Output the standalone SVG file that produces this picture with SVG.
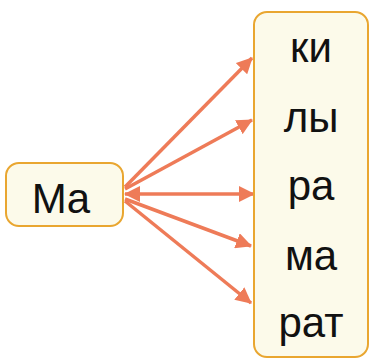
<svg xmlns="http://www.w3.org/2000/svg" width="371" height="364" viewBox="0 0 371 364">
<style>
.box{fill:#FCFAEA;stroke:#E9A630;stroke-width:2}
.t{font-family:"Liberation Sans",Arial,sans-serif;font-size:42px;fill:#111;text-anchor:middle}
.c{stroke:#EE7B58;stroke-width:3.5;fill:none}
</style>
<defs>
<marker id="ah" viewBox="0 0 16 16" refX="15" refY="8" markerWidth="16" markerHeight="16" markerUnits="userSpaceOnUse" orient="auto-start-reverse">
<path d="M0,0 L16,8 L0,16 Z" fill="#EE7B58"/>
</marker>
</defs>
<rect width="371" height="364" fill="#fff"/>
<g id="connectors">
<line class="c" x1="125" y1="187" x2="252" y2="58" marker-end="url(#ah)"/>
<line class="c" x1="125" y1="189" x2="252" y2="120" marker-end="url(#ah)"/>
<line class="c" x1="125" y1="194" x2="254" y2="194" marker-start="url(#ah)" marker-end="url(#ah)"/>
<line class="c" x1="125" y1="199" x2="251" y2="246" marker-end="url(#ah)"/>
<line class="c" x1="125" y1="201" x2="251" y2="303" marker-end="url(#ah)"/>
</g>
<g id="node-ma">
<rect class="box" x="6" y="163" width="117" height="63" rx="13"/>
<text class="t" x="61" y="213">Ma</text>
</g>
<g id="node-syllables">
<rect class="box" x="254" y="12" width="114" height="345" rx="13"/>
<text class="t" x="311" y="62">ки</text>
<text class="t" x="311" y="132">лы</text>
<text class="t" x="311" y="200">ра</text>
<text class="t" x="311" y="270">ма</text>
<text class="t" x="311" y="337">рат</text>
</g>
</svg>
